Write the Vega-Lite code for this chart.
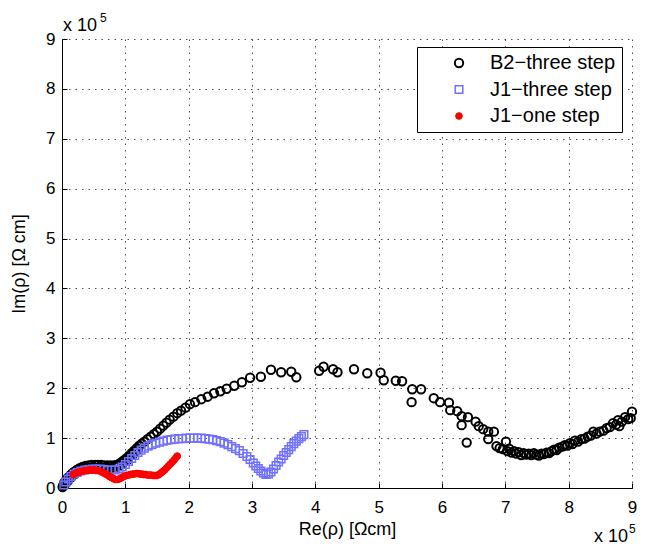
{
  "$schema": "https://vega.github.io/schema/vega-lite/v6.json",
  "width": 570,
  "height": 449,
  "autosize": {"type": "none"},
  "padding": {"left": 62, "top": 39, "right": 13, "bottom": 59},
  "background": "#ffffff",
  "config": {
    "font": "Liberation Sans",
    "view": {"stroke": null},
    "axis": {
      "domainColor": "#000000",
      "domainWidth": 1,
      "tickColor": "#000000",
      "tickWidth": 1,
      "tickSize": -5,
      "labelColor": "#000000",
      "titleColor": "#000000",
      "labelFont": "Liberation Sans",
      "titleFont": "Liberation Sans",
      "labelFontSize": 17,
      "titleFontSize": 18,
      "titleFontWeight": "normal",
      "grid": true,
      "gridColor": "#222222",
      "gridOpacity": 0.8,
      "gridDash": [1.5, 5],
      "gridWidth": 1,
      "format": "d"
    },
    "legend": {
      "labelFont": "Liberation Sans",
      "labelColor": "#000000"
    }
  },
  "layer": [
    {
      "data": {
        "values": [
          {"s":"B2−three step","re":0.01,"im":0.02},{"s":"B2−three step","re":0.02,"im":0.05},{"s":"B2−three step","re":0.03,"im":0.08},{"s":"B2−three step","re":0.04,"im":0.11},{"s":"B2−three step","re":0.06,"im":0.14},{"s":"B2−three step","re":0.08,"im":0.18},{"s":"B2−three step","re":0.1,"im":0.21},{"s":"B2−three step","re":0.13,"im":0.25},{"s":"B2−three step","re":0.16,"im":0.29},{"s":"B2−three step","re":0.19,"im":0.32},{"s":"B2−three step","re":0.23,"im":0.36},{"s":"B2−three step","re":0.27,"im":0.39},{"s":"B2−three step","re":0.32,"im":0.42},{"s":"B2−three step","re":0.37,"im":0.44},{"s":"B2−three step","re":0.42,"im":0.45},{"s":"B2−three step","re":0.47,"im":0.46},{"s":"B2−three step","re":0.52,"im":0.46},{"s":"B2−three step","re":0.57,"im":0.46},{"s":"B2−three step","re":0.62,"im":0.46},{"s":"B2−three step","re":0.67,"im":0.45},{"s":"B2−three step","re":0.72,"im":0.45},{"s":"B2−three step","re":0.77,"im":0.45},{"s":"B2−three step","re":0.82,"im":0.45},{"s":"B2−three step","re":0.86,"im":0.46},{"s":"B2−three step","re":0.9,"im":0.48},{"s":"B2−three step","re":0.94,"im":0.52},{"s":"B2−three step","re":0.98,"im":0.56},{"s":"B2−three step","re":1.02,"im":0.6},{"s":"B2−three step","re":1.06,"im":0.65},{"s":"B2−three step","re":1.1,"im":0.7},{"s":"B2−three step","re":1.14,"im":0.75},{"s":"B2−three step","re":1.18,"im":0.8},{"s":"B2−three step","re":1.22,"im":0.85},{"s":"B2−three step","re":1.26,"im":0.89},{"s":"B2−three step","re":1.3,"im":0.93},{"s":"B2−three step","re":1.35,"im":0.98},{"s":"B2−three step","re":1.4,"im":1.03},{"s":"B2−three step","re":1.45,"im":1.08},{"s":"B2−three step","re":1.5,"im":1.13},{"s":"B2−three step","re":1.55,"im":1.19},{"s":"B2−three step","re":1.6,"im":1.25},{"s":"B2−three step","re":1.65,"im":1.31},{"s":"B2−three step","re":1.7,"im":1.37},{"s":"B2−three step","re":1.76,"im":1.43},{"s":"B2−three step","re":1.82,"im":1.5},{"s":"B2−three step","re":1.88,"im":1.55},{"s":"B2−three step","re":1.95,"im":1.61},{"s":"B2−three step","re":2.02,"im":1.68},{"s":"B2−three step","re":2.1,"im":1.72},{"s":"B2−three step","re":2.2,"im":1.78},{"s":"B2−three step","re":2.3,"im":1.83},{"s":"B2−three step","re":2.4,"im":1.9},{"s":"B2−three step","re":2.5,"im":1.94},{"s":"B2−three step","re":2.6,"im":1.99},{"s":"B2−three step","re":2.72,"im":2.05},{"s":"B2−three step","re":2.84,"im":2.12},{"s":"B2−three step","re":2.97,"im":2.21},{"s":"B2−three step","re":3.14,"im":2.23},{"s":"B2−three step","re":3.3,"im":2.37},{"s":"B2−three step","re":3.46,"im":2.32},{"s":"B2−three step","re":3.62,"im":2.33},{"s":"B2−three step","re":3.7,"im":2.22},{"s":"B2−three step","re":4.06,"im":2.35},{"s":"B2−three step","re":4.13,"im":2.43},{"s":"B2−three step","re":4.28,"im":2.38},{"s":"B2−three step","re":4.35,"im":2.32},{"s":"B2−three step","re":4.61,"im":2.38},{"s":"B2−three step","re":4.82,"im":2.3},{"s":"B2−three step","re":5.03,"im":2.31},{"s":"B2−three step","re":5.08,"im":2.16},{"s":"B2−three step","re":5.27,"im":2.15},{"s":"B2−three step","re":5.37,"im":2.14},{"s":"B2−three step","re":5.52,"im":1.72},{"s":"B2−three step","re":5.53,"im":1.98},{"s":"B2−three step","re":5.67,"im":1.98},{"s":"B2−three step","re":5.87,"im":1.8},{"s":"B2−three step","re":5.97,"im":1.72},{"s":"B2−three step","re":6.11,"im":1.71},{"s":"B2−three step","re":6.13,"im":1.56},{"s":"B2−three step","re":6.24,"im":1.54},{"s":"B2−three step","re":6.31,"im":1.44},{"s":"B2−three step","re":6.41,"im":1.42},{"s":"B2−three step","re":6.31,"im":1.26},{"s":"B2−three step","re":6.53,"im":1.33},{"s":"B2−three step","re":6.39,"im":0.91},{"s":"B2−three step","re":6.58,"im":1.24},{"s":"B2−three step","re":6.65,"im":1.18},{"s":"B2−three step","re":6.73,"im":1.13},{"s":"B2−three step","re":6.73,"im":0.98},{"s":"B2−three step","re":6.82,"im":1.13},{"s":"B2−three step","re":6.86,"im":0.84},{"s":"B2−three step","re":6.91,"im":0.8},{"s":"B2−three step","re":6.96,"im":0.78},{"s":"B2−three step","re":7.01,"im":0.93},{"s":"B2−three step","re":7.03,"im":0.74},{"s":"B2−three step","re":7.06,"im":0.79},{"s":"B2−three step","re":7.1,"im":0.71},{"s":"B2−three step","re":7.14,"im":0.74},{"s":"B2−three step","re":7.17,"im":0.69},{"s":"B2−three step","re":7.21,"im":0.72},{"s":"B2−three step","re":7.25,"im":0.66},{"s":"B2−three step","re":7.29,"im":0.7},{"s":"B2−three step","re":7.33,"im":0.67},{"s":"B2−three step","re":7.37,"im":0.69},{"s":"B2−three step","re":7.41,"im":0.66},{"s":"B2−three step","re":7.45,"im":0.7},{"s":"B2−three step","re":7.49,"im":0.67},{"s":"B2−three step","re":7.53,"im":0.65},{"s":"B2−three step","re":7.57,"im":0.69},{"s":"B2−three step","re":7.61,"im":0.68},{"s":"B2−three step","re":7.65,"im":0.71},{"s":"B2−three step","re":7.69,"im":0.7},{"s":"B2−three step","re":7.73,"im":0.74},{"s":"B2−three step","re":7.77,"im":0.77},{"s":"B2−three step","re":7.81,"im":0.76},{"s":"B2−three step","re":7.85,"im":0.81},{"s":"B2−three step","re":7.9,"im":0.83},{"s":"B2−three step","re":7.94,"im":0.86},{"s":"B2−three step","re":7.98,"im":0.85},{"s":"B2−three step","re":8.02,"im":0.9},{"s":"B2−three step","re":8.06,"im":0.88},{"s":"B2−three step","re":8.1,"im":0.95},{"s":"B2−three step","re":8.15,"im":0.93},{"s":"B2−three step","re":8.2,"im":0.98},{"s":"B2−three step","re":8.25,"im":0.99},{"s":"B2−three step","re":8.3,"im":1.03},{"s":"B2−three step","re":8.35,"im":1.05},{"s":"B2−three step","re":8.39,"im":1.13},{"s":"B2−three step","re":8.44,"im":1.09},{"s":"B2−three step","re":8.49,"im":1.13},{"s":"B2−three step","re":8.55,"im":1.15},{"s":"B2−three step","re":8.6,"im":1.2},{"s":"B2−three step","re":8.65,"im":1.22},{"s":"B2−three step","re":8.7,"im":1.3},{"s":"B2−three step","re":8.75,"im":1.27},{"s":"B2−three step","re":8.78,"im":1.36},{"s":"B2−three step","re":8.8,"im":1.24},{"s":"B2−three step","re":8.84,"im":1.33},{"s":"B2−three step","re":8.89,"im":1.42},{"s":"B2−three step","re":8.94,"im":1.38},{"s":"B2−three step","re":8.98,"im":1.4},{"s":"B2−three step","re":9.0,"im":1.53},
          {"s":"B2−three step","re":0.05,"im":0.08},{"s":"B2−three step","re":0.09,"im":0.14},{"s":"B2−three step","re":0.14,"im":0.21},{"s":"B2−three step","re":0.2,"im":0.28},{"s":"B2−three step","re":0.26,"im":0.34},{"s":"B2−three step","re":0.33,"im":0.39},{"s":"B2−three step","re":0.4,"im":0.41},{"s":"B2−three step","re":0.49,"im":0.42},{"s":"B2−three step","re":0.59,"im":0.42},{"s":"B2−three step","re":0.69,"im":0.41},{"s":"B2−three step","re":0.79,"im":0.41},{"s":"B2−three step","re":0.88,"im":0.43},{"s":"B2−three step","re":0.96,"im":0.49},{"s":"B2−three step","re":1.04,"im":0.57},{"s":"B2−three step","re":1.12,"im":0.67},{"s":"B2−three step","re":1.2,"im":0.77},
          {"s":"J1−three step","re":0.03,"im":0.06},{"s":"J1−three step","re":0.06,"im":0.12},{"s":"J1−three step","re":0.1,"im":0.18},{"s":"J1−three step","re":0.14,"im":0.23},{"s":"J1−three step","re":0.19,"im":0.28},{"s":"J1−three step","re":0.24,"im":0.31},{"s":"J1−three step","re":0.3,"im":0.34},{"s":"J1−three step","re":0.36,"im":0.36},{"s":"J1−three step","re":0.42,"im":0.37},{"s":"J1−three step","re":0.48,"im":0.38},{"s":"J1−three step","re":0.54,"im":0.38},{"s":"J1−three step","re":0.6,"im":0.38},{"s":"J1−three step","re":0.66,"im":0.37},{"s":"J1−three step","re":0.72,"im":0.36},{"s":"J1−three step","re":0.78,"im":0.36},{"s":"J1−three step","re":0.84,"im":0.36},{"s":"J1−three step","re":0.9,"im":0.38},{"s":"J1−three step","re":0.95,"im":0.42},{"s":"J1−three step","re":1.0,"im":0.47},{"s":"J1−three step","re":1.05,"im":0.53},{"s":"J1−three step","re":1.1,"im":0.59},{"s":"J1−three step","re":1.15,"im":0.65},{"s":"J1−three step","re":1.2,"im":0.71},{"s":"J1−three step","re":1.25,"im":0.76},{"s":"J1−three step","re":1.3,"im":0.8},{"s":"J1−three step","re":1.36,"im":0.84},{"s":"J1−three step","re":1.42,"im":0.87},{"s":"J1−three step","re":1.48,"im":0.9},{"s":"J1−three step","re":1.54,"im":0.92},{"s":"J1−three step","re":1.6,"im":0.94},{"s":"J1−three step","re":1.66,"im":0.96},{"s":"J1−three step","re":1.72,"im":0.97},{"s":"J1−three step","re":1.78,"im":0.98},{"s":"J1−three step","re":1.84,"im":0.99},{"s":"J1−three step","re":1.9,"im":0.99},{"s":"J1−three step","re":1.96,"im":1.0},{"s":"J1−three step","re":2.02,"im":1.0},{"s":"J1−three step","re":2.08,"im":1.0},{"s":"J1−three step","re":2.14,"im":1.0},{"s":"J1−three step","re":2.2,"im":1.0},{"s":"J1−three step","re":2.26,"im":0.99},{"s":"J1−three step","re":2.32,"im":0.98},{"s":"J1−three step","re":2.38,"im":0.97},{"s":"J1−three step","re":2.44,"im":0.95},{"s":"J1−three step","re":2.5,"im":0.93},{"s":"J1−three step","re":2.56,"im":0.9},{"s":"J1−three step","re":2.62,"im":0.87},{"s":"J1−three step","re":2.68,"im":0.83},{"s":"J1−three step","re":2.74,"im":0.79},{"s":"J1−three step","re":2.8,"im":0.75},{"s":"J1−three step","re":2.86,"im":0.69},{"s":"J1−three step","re":2.92,"im":0.63},{"s":"J1−three step","re":2.97,"im":0.57},{"s":"J1−three step","re":3.02,"im":0.5},{"s":"J1−three step","re":3.06,"im":0.44},{"s":"J1−three step","re":3.1,"im":0.39},{"s":"J1−three step","re":3.14,"im":0.34},{"s":"J1−three step","re":3.18,"im":0.3},{"s":"J1−three step","re":3.22,"im":0.27},{"s":"J1−three step","re":3.26,"im":0.28},{"s":"J1−three step","re":3.3,"im":0.32},{"s":"J1−three step","re":3.34,"im":0.38},{"s":"J1−three step","re":3.38,"im":0.45},{"s":"J1−three step","re":3.42,"im":0.52},{"s":"J1−three step","re":3.46,"im":0.58},{"s":"J1−three step","re":3.5,"im":0.65},{"s":"J1−three step","re":3.54,"im":0.71},{"s":"J1−three step","re":3.58,"im":0.77},{"s":"J1−three step","re":3.62,"im":0.83},{"s":"J1−three step","re":3.66,"im":0.89},{"s":"J1−three step","re":3.7,"im":0.94},{"s":"J1−three step","re":3.74,"im":0.99},{"s":"J1−three step","re":3.78,"im":1.03},{"s":"J1−three step","re":3.82,"im":1.07},
          {"s":"J1−one step","re":0.18,"im":0.27},{"s":"J1−one step","re":0.21,"im":0.29},{"s":"J1−one step","re":0.24,"im":0.31},{"s":"J1−one step","re":0.27,"im":0.32},{"s":"J1−one step","re":0.3,"im":0.33},{"s":"J1−one step","re":0.33,"im":0.34},{"s":"J1−one step","re":0.36,"im":0.35},{"s":"J1−one step","re":0.39,"im":0.35},{"s":"J1−one step","re":0.42,"im":0.36},{"s":"J1−one step","re":0.45,"im":0.36},{"s":"J1−one step","re":0.48,"im":0.36},{"s":"J1−one step","re":0.51,"im":0.36},{"s":"J1−one step","re":0.54,"im":0.35},{"s":"J1−one step","re":0.57,"im":0.35},{"s":"J1−one step","re":0.6,"im":0.34},{"s":"J1−one step","re":0.63,"im":0.32},{"s":"J1−one step","re":0.66,"im":0.3},{"s":"J1−one step","re":0.69,"im":0.28},{"s":"J1−one step","re":0.72,"im":0.26},{"s":"J1−one step","re":0.75,"im":0.23},{"s":"J1−one step","re":0.78,"im":0.21},{"s":"J1−one step","re":0.81,"im":0.19},{"s":"J1−one step","re":0.84,"im":0.17},{"s":"J1−one step","re":0.87,"im":0.17},{"s":"J1−one step","re":0.9,"im":0.18},{"s":"J1−one step","re":0.93,"im":0.2},{"s":"J1−one step","re":0.96,"im":0.22},{"s":"J1−one step","re":0.99,"im":0.24},{"s":"J1−one step","re":1.02,"im":0.25},{"s":"J1−one step","re":1.05,"im":0.26},{"s":"J1−one step","re":1.08,"im":0.27},{"s":"J1−one step","re":1.11,"im":0.28},{"s":"J1−one step","re":1.14,"im":0.28},{"s":"J1−one step","re":1.17,"im":0.29},{"s":"J1−one step","re":1.2,"im":0.29},{"s":"J1−one step","re":1.23,"im":0.28},{"s":"J1−one step","re":1.26,"im":0.28},{"s":"J1−one step","re":1.29,"im":0.27},{"s":"J1−one step","re":1.32,"im":0.27},{"s":"J1−one step","re":1.35,"im":0.26},{"s":"J1−one step","re":1.38,"im":0.26},{"s":"J1−one step","re":1.41,"im":0.26},{"s":"J1−one step","re":1.44,"im":0.25},{"s":"J1−one step","re":1.47,"im":0.25},{"s":"J1−one step","re":1.5,"im":0.25},{"s":"J1−one step","re":1.53,"im":0.27},{"s":"J1−one step","re":1.56,"im":0.3},{"s":"J1−one step","re":1.59,"im":0.33},{"s":"J1−one step","re":1.62,"im":0.36},{"s":"J1−one step","re":1.65,"im":0.4},{"s":"J1−one step","re":1.68,"im":0.44},{"s":"J1−one step","re":1.71,"im":0.48},{"s":"J1−one step","re":1.74,"im":0.52},{"s":"J1−one step","re":1.77,"im":0.56},{"s":"J1−one step","re":1.8,"im":0.61},{"s":"J1−one step","re":1.82,"im":0.64}
        ]
      },
      "mark": {"type": "point", "clip": false},
      "encoding": {
        "x": {
          "field": "re", "type": "quantitative",
          "scale": {"domain": [0, 9], "nice": false},
          "axis": {"values": [0,1,2,3,4,5,6,7,8,9], "title": "Re(ρ) [Ωcm]", "labelFlush": false, "labelPadding": 16, "titlePadding": 5}
        },
        "y": {
          "field": "im", "type": "quantitative",
          "scale": {"domain": [0, 9], "nice": false},
          "axis": {"values": [0,1,2,3,4,5,6,7,8,9], "title": "Im(ρ) [Ω cm]", "labelPadding": 12, "titlePadding": 17}
        },
        "shape": {
          "field": "s", "type": "nominal",
          "scale": {"domain": ["B2−three step", "J1−three step", "J1−one step"], "range": ["circle", "square", "circle"]},
          "legend": {
            "title": null, "orient": "none", "legendX": 355, "legendY": 8,
            "strokeColor": "#000000", "fillColor": "#ffffff", "padding": 6,
            "labelFontSize": 20, "labelOffset": 21, "symbolOffset": 26, "rowPadding": 6.5
          }
        },
        "stroke": {
          "field": "s", "type": "nominal",
          "scale": {"domain": ["B2−three step", "J1−three step", "J1−one step"], "range": ["#000000", "#7070ff", "#ff0000"]}
        },
        "fill": {
          "field": "s", "type": "nominal",
          "scale": {"domain": ["B2−three step", "J1−three step", "J1−one step"], "range": ["transparent", "transparent", "#ff0000"]}
        },
        "size": {
          "field": "s", "type": "ordinal",
          "scale": {"domain": ["B2−three step", "J1−three step", "J1−one step"], "range": [70, 45, 50]}
        },
        "strokeWidth": {
          "field": "s", "type": "ordinal",
          "scale": {"domain": ["B2−three step", "J1−three step", "J1−one step"], "range": [2, 1, 1]}
        },
        "opacity": {"value": 1}
      }
    },
    {
      "data": {"values": [{"re": 0, "im": 9, "t": "x 10"}]},
      "mark": {"type": "text", "align": "left", "baseline": "alphabetic", "dx": 1, "dy": -8, "fontSize": 18, "font": "Liberation Sans", "color": "#000000", "clip": false},
      "encoding": {"x": {"field": "re", "type": "quantitative"}, "y": {"field": "im", "type": "quantitative"}, "text": {"field": "t"}}
    },
    {
      "data": {"values": [{"re": 0, "im": 9, "t": "5"}]},
      "mark": {"type": "text", "align": "left", "baseline": "alphabetic", "dx": 38, "dy": -17, "fontSize": 12, "font": "Liberation Sans", "color": "#000000", "clip": false},
      "encoding": {"x": {"field": "re", "type": "quantitative"}, "y": {"field": "im", "type": "quantitative"}, "text": {"field": "t"}}
    },
    {
      "data": {"values": [{"re": 9, "im": 0, "t": "x 10"}]},
      "mark": {"type": "text", "align": "right", "baseline": "alphabetic", "dx": -4, "dy": 54, "fontSize": 18, "font": "Liberation Sans", "color": "#000000", "clip": false},
      "encoding": {"x": {"field": "re", "type": "quantitative"}, "y": {"field": "im", "type": "quantitative"}, "text": {"field": "t"}}
    },
    {
      "data": {"values": [{"re": 9, "im": 0, "t": "5"}]},
      "mark": {"type": "text", "align": "left", "baseline": "alphabetic", "dx": -3, "dy": 45, "fontSize": 12, "font": "Liberation Sans", "color": "#000000", "clip": false},
      "encoding": {"x": {"field": "re", "type": "quantitative"}, "y": {"field": "im", "type": "quantitative"}, "text": {"field": "t"}}
    }
  ]
}
